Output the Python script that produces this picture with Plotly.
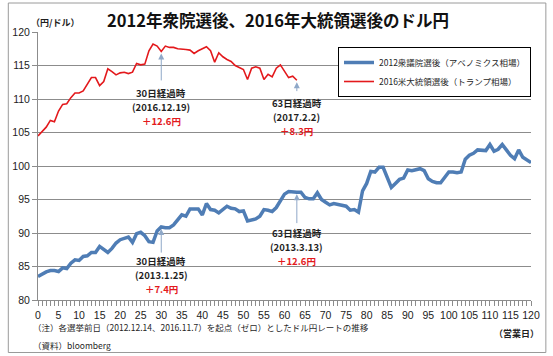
import plotly.graph_objects as go

# ---------------- data ----------------
days_trump = list(range(0, 64))
usdjpy_2016 = [104.5, 105.2, 105.8, 106.8, 106.6, 108.2, 109.2, 109.3, 110.2, 110.9,
               110.9, 111.2, 112.3, 113.2, 113.2, 112.0, 112.6, 114.5, 114.1, 113.6,
               113.9, 114.0, 113.8, 114.0, 115.3, 115.1, 115.2, 117.2, 118.2, 117.9,
               117.1, 117.9, 117.7, 117.7, 117.5, 117.5, 117.4, 117.3, 116.8, 117.2,
               117.5, 117.8, 117.2, 115.5, 116.9, 116.3, 115.9, 115.6, 115.0, 114.7,
               114.4, 112.9, 114.6, 114.8, 114.6, 112.9, 113.7, 113.3, 114.6, 115.1,
               114.2, 113.2, 113.4, 112.8]

days_abe = list(range(0, 121))
usdjpy_2012 = [83.5, 83.9, 84.2, 84.4, 84.4, 84.25, 84.8, 84.7, 85.5, 86.0,
               85.9, 86.5, 86.6, 87.1, 87.1, 88.0, 87.6, 87.1, 87.7, 88.5,
               89.0, 89.2, 89.4, 88.6, 89.9, 90.1, 89.6, 88.7, 88.6, 90.3,
               90.9, 90.8, 90.8, 91.2, 91.9, 92.7, 92.5, 93.6, 93.6, 93.6,
               92.7, 94.4, 93.5, 93.4, 93.0, 93.5, 94.0, 93.7, 93.6, 93.2,
               93.3, 91.8, 91.9, 92.1, 92.5, 93.5, 93.4, 93.2, 93.8, 94.7,
               95.8, 96.2, 96.1, 96.1, 96.1, 95.3, 95.1, 95.1, 96.0, 95.0,
               94.6, 94.2, 94.4, 94.3, 94.2, 94.0, 93.4, 93.5, 93.1, 96.3,
               97.4, 99.2, 99.1, 99.8, 99.8, 98.3, 96.8, 97.4, 98.0, 98.2,
               99.4, 99.3, 99.5, 99.6, 99.3, 98.1, 97.7, 97.5, 97.5, 98.3,
               99.1, 99.1, 99.0, 99.1, 101.0, 101.6, 101.9, 102.4, 102.3, 102.3,
               103.2, 102.2, 102.5, 103.2, 102.4, 101.6, 101.1, 102.4, 101.3, 100.9,
               100.5]

series_names = ["2012衆議院選後（アベノミクス相場）", "2016米大統領選後（トランプ相場）"]
x_ticks = list(range(0, 121, 5))
y_ticks = [80, 85, 90, 95, 100, 105, 110, 115, 120]

title_text = "2012年衆院選後、2016年大統領選後のドル円"
y_unit = "（円/ドル）"
x_unit = "（営業日）"
note_text = "（注）各選挙前日（2012.12.14、2016.11.7）を起点（ゼロ）としたドル円レートの推移"
source_text = "（資料）bloomberg"

# callouts: (day, arrow base value, arrow tip value, label lines, change text)
callouts = [
    (30, 112.7, 116.8, "30日経過時", "(2016.12.19)", "＋12.6円"),
    (63, 111.1, 112.5, "63日経過時", "(2017.2.2)", "＋8.3円"),
    (30, 87.0, 90.6, "30日経過時", "(2013.1.25)", "＋7.4円"),
    (63, 91.4, 95.8, "63日経過時", "(2013.3.13)", "＋12.6円"),
]
# y position (axis units) of the first label line of each callout
label_first_line = [110.9, 109.4, 85.8, 90.0]
LINE_STEP = 2.09  # axis units between label lines (~14 px)

# ---------------- layout helpers ----------------
W, H = 553, 356
ML, MR, MT, MB = 33, 22, 32, 56
PW, PH = W - ML - MR, H - MT - MB


def px_x(px):
    return (px - ML) / PW


def px_y(py):
    return (H - MB - py) / PH


FONT = "Noto Sans CJK JP"
TXT = "#1f1f1f"
BLUE = "#4f7db5"
RED = "#e3191c"
GRID = "#8c8c8c"

fig = go.Figure()
fig.add_trace(go.Scatter(x=days_abe, y=usdjpy_2012, mode="lines", name=series_names[0],
                         line=dict(color=BLUE, width=3.5)))
fig.add_trace(go.Scatter(x=days_trump, y=usdjpy_2016, mode="lines", name=series_names[1],
                         line=dict(color=RED, width=1.6)))

annotations = []
for (d, yb, yt, l1, l2, l3), y0 in zip(callouts, label_first_line):
    annotations.append(dict(x=d, y=yt, ax=d, ay=yb, xref="x", yref="y", axref="x", ayref="y",
                            text="", showarrow=True, arrowhead=2, arrowsize=1.2,
                            arrowwidth=1, arrowcolor="#8fa8c8", font=dict(size=1),
                            borderpad=0))
    for k, (txt, col) in enumerate([(l1, TXT), (l2, TXT), (l3, RED)]):
        annotations.append(dict(x=d, y=y0 - k * LINE_STEP, xref="x", yref="y",
                                yanchor="middle", showarrow=False, borderpad=0,
                                text=f"<b>{txt}</b>",
                                font=dict(family=FONT, size=9.5, color=col)))

annotations += [
    dict(x=px_x(275), y=px_y(20), xref="paper", yref="paper", text=f"<b>{title_text}</b>",
         showarrow=False, xanchor="center", yanchor="middle",
         font=dict(family=FONT, size=16.5, color="#111")),
    dict(x=px_x(24), y=px_y(22), xref="paper", yref="paper", text=f"<b>{y_unit}</b>",
         showarrow=False, xanchor="left", yanchor="middle",
         font=dict(family=FONT, size=9, color=TXT)),
    dict(x=px_x(541), y=px_y(333), xref="paper", yref="paper", text=f"<b>{x_unit}</b>",
         showarrow=False, xanchor="right", yanchor="middle",
         font=dict(family=FONT, size=9, color=TXT)),
    dict(x=px_x(26), y=px_y(327), xref="paper", yref="paper", text=note_text,
         showarrow=False, xanchor="left", yanchor="middle",
         font=dict(family=FONT, size=8.5, color=TXT)),
    dict(x=px_x(26), y=px_y(345), xref="paper", yref="paper", text=source_text,
         showarrow=False, xanchor="left", yanchor="middle",
         font=dict(family=FONT, size=8.5, color=TXT)),
]

shapes = [dict(type="rect", xref="paper", yref="paper",
               x0=px_x(3), x1=px_x(546), y0=px_y(352.5), y1=px_y(3),
               line=dict(color="#9a9a9a", width=1), fillcolor="rgba(0,0,0,0)", layer="below")]

fig.update_layout(
    width=W, height=H,
    margin=dict(l=ML, r=MR, t=MT, b=MB),
    paper_bgcolor="white", plot_bgcolor="white",
    font=dict(family=FONT, size=10, color=TXT),
    showlegend=True,
    legend=dict(x=1.0, y=px_y(47), xanchor="right", yanchor="top",
                bgcolor="white", bordercolor="black", borderwidth=1,
                font=dict(family=FONT, size=8.5, color=TXT),
                tracegroupgap=0, itemwidth=30),
    annotations=annotations,
    shapes=shapes,
)
fig.update_xaxes(range=[0, 120], tickvals=x_ticks, ticks="outside", ticklen=5,
                 tickcolor=GRID, showgrid=False, showline=True, linecolor=GRID, linewidth=1,
                 minor=dict(dtick=1, ticks="outside", ticklen=5, tickcolor=GRID, showgrid=False),
                 tickfont=dict(family="Liberation Sans", size=10.5, color="#222"), zeroline=False)
fig.update_yaxes(range=[80, 120], tickvals=y_ticks, ticks="outside", ticklen=5,
                 tickcolor=GRID, showgrid=True, gridcolor=GRID, gridwidth=1,
                 showline=True, linecolor=GRID, linewidth=1,
                 tickfont=dict(family="Liberation Sans", size=10.5, color="#222"), zeroline=False)

fig.write_html("out.html", config={"displayModeBar": False},
               post_script="document.body.style.margin='0';document.body.style.overflow='hidden';")
